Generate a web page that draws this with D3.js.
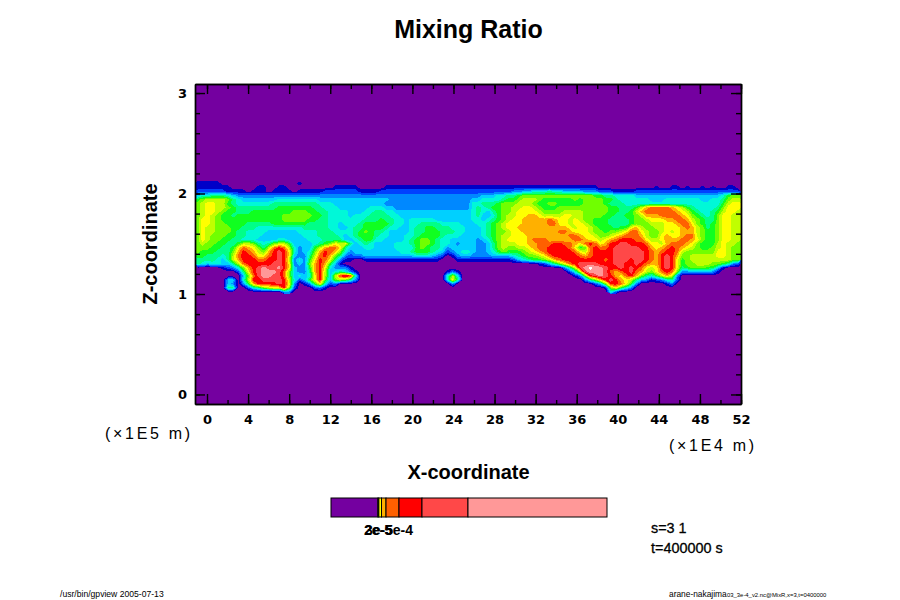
<!DOCTYPE html>
<html lang="en">
<head>
  <meta charset="utf-8" />
  <title>Mixing Ratio</title>
  <script src="https://d3js.org/d3.v7.min.js"></script>
  <style>
    html, body { margin: 0; padding: 0; background: #fff; }
    svg { display: block; }
    text { font-family: "Liberation Sans", sans-serif; fill: #000; }
    .tick text { font-family: "DejaVu Sans", sans-serif; font-size: 13px; font-weight: bold; }
    .tick line, .domain { stroke: #000; stroke-width: 1.4px; }
  </style>
</head>
<body>
  <svg id="chart" width="900" height="600"></svg>

  <script>
    // level of each grid cell, one string per z row (top to bottom), one char per x column
    const cellRows = [
      "1111100000 0000000000 1000000000 0000000000 0000000000 0000 000000 0000000000 0000000000 0000000000 0000000000 0000000",
      "1111111000 0011001100 0000000111 1100000111 1111111111 1111 111111 1111111111 1111111110 0000000000 1001101001 0100110",
      "2222221111 0111011110 1111122222 2211112222 2222222222 2222 222222 2233445556 5544443332 2211112222 2222222222 2222222",
      "4556665433 3333333333 3333333333 3333333333 3333333333 3333 334445 5667888888 8888888877 6655554444 4444444444 4445788",
      "7899998654 4444445555 5555444444 4444444433 3333333333 3333 445555 6778999877 7777878888 7765555554 4455555554 4556899",
      "89aa997655 5555566666 6666555444 4444444333 3333333333 3333 556667 8889998778 8777778888 7666555555 5555555555 55579aa",
      "89aa998766 6666667777 7776655544 4444555443 3333333333 3333 565677 8899aa9877 7888888888 87766679bc cccba97655 5568aaa",
      "89aa987766 6777777778 8877665555 4445566554 4444444444 4444 565467 889aaaa988 8899998888 8776679bcc ccccba9765 5679aa9",
      "89a9877677 7777777888 8887765555 4555666655 4444444444 4444 564457 899aabba99 99aa998888 77667789bb bccccba876 568aa99",
      "8aa9877777 7777777888 8877665555 5556667665 5455555444 4444 554567 89aabbbbbc baa9a98877 766667889a aabbccb987 668aa99",
      "8aa9887777 6666677777 7766665545 5567777765 5455666655 5544 455678 9aaabbbbbc caa9aa9877 7666678889 99aabcca87 678aa99",
      "8a99888776 6655555555 5666665544 5667777655 4456677666 5554 445678 9aabbbbbbb bbba9aa987 77677ab988 99aaabcb98 678aa99",
      "8a99888766 5555444444 5555666555 5678766544 4456677766 6554 445678 89aabbbbbb bccbaaa988 7889acca98 89a9abbb98 778aa99",
      "8a98887766 5554444444 4555666654 5677765544 4556777765 5544 445678 99aaabbbbb bbbccbaa98 89abcccb98 8abaabcc98 778aa99",
      "8a98877665 5544445544 4455566664 4567755444 4567887655 4444 434578 9aaaabcccb bbbbccbaa9 abcdddcca9 9abbbccba8 778aa99",
      "8988776679 9865689974 4445678a9a 6456544445 5567887655 4344 433468 999aabbccc ddccbacdca bddeedddca a9bcccba87 779a998",
      "8887766 7ac ba869cdc95 34479bcca6 4445544445 5557876653 4444 433468 98899abccd dddca78cdc cdeeeeeddb abcdcba987 789a988",
      "87776668bd cb98bdeda5 3458bdcb85 3444444444 5567776542 3455 433457 87778 9abcd ddddca9cdd ddeeeeeedc bcddc98888 88aa988",
      "7766656 9cd dcaacdeda4 3369cdb863 2334444444 4445554320 1344 333344 4456788 9ac dddddcbcdd ddeeeeeedc bdedb88999 99aa988",
      "66665469bd ddccdded93 537adca631 1001111111 1111111100 0111 111111 1124567789 bcdddddddd cdeeedeedc bdeda78999 9999988",
      "6545544 69c dddddeeda3 438bdb7410 0000000000 0000000000 0000 000000 0000000124 68acdeeeed ddeeddedcb bdeda78899 9887632",
      "0000012358 bdefeefda4 337bda5333 1000000000 0000000000 0000 000000 0000000000 00369efgff eddededca9 adeda67888 7741000",
      "0000000026 adefffec84 336bd94565 3100000000 0000000001 3100 000000 0000000000 000259efff ecbcdecb98 acdc833444 4310000",
      "0000000004 8ceffeec84 545ad949de d500000000 0000000005 9500 000000 0000000000 0000138def edbacdb865 79b9300000 0000000",
      "0000004405 9ddeeeed95 247ad84898 6300000000 0000000005 a600 000000 0000000000 000000368b dedba96431 2356200000 0000000",
      "0000004303 7bddddeda3 0137a52300 0000000000 0000000000 3000 000000 0000000000 0000000024 8ddca73000 0013000000 0000000",
      "0000006600 25689aad82 0002310000 0000000000 0000000000 0000 000000 0000000000 0000000000 18a7530000 0000000000 0000000",
      "0000000000 0000000330 0000000000 0000000000 0000000000 0000 000000 0000000000 0000000000 0520000000 0000000000 0000000"
    ].map(r => r.replace(/ /g, ""));

    const levelKeys = "0123456789abcdefg".split("");
    const levelColors = ["#7400a0", "#0000c8", "#0040ff", "#0088ff", "#00d0ff", "#00f8d8", "#00ff88", "#10ff20",
      "#70ff00", "#c0ff00", "#ffff00", "#ffb000", "#ff6000", "#ff0000", "#ff4848", "#ff9898", "#ffffff"];

    const xMajor = d3.range(0, 53, 4);
    const xMinor = d3.range(0, 53, 2);
    const zMajor = [0, 1, 2, 3];
    const zMinor = d3.range(0, 3.01, 0.2);

    const barEdges = [0, 1.02e-4, 1.04e-4, 1.098e-4, 1.196e-4, 1.478e-4, 1.978e-4, 2.978e-4, 6e-4];
    const barColors = ["#7400a0", "#c0ff00", "#ffff00", "#ffb000", "#ff6000", "#ff0000", "#ff4848", "#ff9898"];
    const barLabels = ["2e-5", "3e-5", "5e-4"];
    const barLabelX = [364, 365, 385];

    const svg = d3.select("#chart");
    const frame = { left: 195, right: 741, top: 84, bottom: 404 };

    const x = d3.scaleLinear().domain([-1.17, 52]).range([frame.left, frame.right]);
    const z = d3.scaleLinear().domain([-0.095, 3.09]).range([frame.bottom, frame.top]);

    // cloud layer only covers z 2.12 .. 1.0, the rest is the background level
    const nCols = cellRows[0].length, nRows = cellRows.length;
    const colPos = d3.scaleLinear().domain([0, nCols]).range([frame.left, frame.right]);
    const rowPos = d3.scaleLinear().domain([0, nRows]).range([z(2.12), z(1.0)]);

    svg.append("rect")
      .attr("x", frame.left).attr("y", frame.top)
      .attr("width", frame.right - frame.left).attr("height", frame.bottom - frame.top)
      .attr("fill", levelColors[0]);

    // filled contours of the level grid, one stacked band per level
    const levelValues = cellRows.flatMap(row => row.split("").map(k => levelKeys.indexOf(k)));
    const bands = d3.contours()
      .size([nCols, nRows])
      .thresholds(d3.range(0.5, levelKeys.length - 0.5, 1))(levelValues);

    const gridToPage = d3.geoTransform({
      point(px, py) { this.stream.point(colPos(px), rowPos(py)); }
    });
    const bandPath = d3.geoPath(gridToPage);

    svg.append("g").selectAll("path")
      .data(bands)
      .enter()
      .append("path")
      .attr("d", bandPath)
      .attr("fill", (d, i) => levelColors[i + 1])
      .attr("shape-rendering", "crispEdges");

    // axes, ticks point into the frame on all four sides
    const noLabel = () => "";
    const drawAxis = (axis, pos, values, size, pad, fmt) => svg.append("g")
      .attr("transform", pos)
      .call(axis.tickValues(values).tickSize(size).tickSizeOuter(0).tickPadding(pad).tickFormat(fmt));

    drawAxis(d3.axisBottom(x), `translate(0,${frame.bottom})`, xMinor, -4, 0, noLabel);
    drawAxis(d3.axisBottom(x), `translate(0,${frame.bottom})`, xMajor, -10, 11, d3.format("d"));
    drawAxis(d3.axisTop(x), `translate(0,${frame.top})`, xMinor, -5, 0, noLabel);
    drawAxis(d3.axisTop(x), `translate(0,${frame.top})`, xMajor, -10, 0, noLabel);
    drawAxis(d3.axisLeft(z), `translate(${frame.left},0)`, zMinor, -5, 0, noLabel);
    drawAxis(d3.axisLeft(z), `translate(${frame.left},0)`, zMajor, -10, 8, d3.format("d"));
    drawAxis(d3.axisRight(z), `translate(${frame.right},0)`, zMinor, -5, 0, noLabel);
    drawAxis(d3.axisRight(z), `translate(${frame.right},0)`, zMajor, -10, 0, noLabel);

    svg.selectAll(".domain").attr("stroke-width", 2);

    // titles
    svg.append("text").attr("x", 468.5).attr("y", 38).attr("text-anchor", "middle")
      .attr("font-size", 25).attr("font-weight", "bold").text("Mixing Ratio");
    svg.append("text").attr("x", 468.5).attr("y", 479).attr("text-anchor", "middle")
      .attr("font-size", 20).attr("font-weight", "bold").text("X-coordinate");
    svg.append("text").attr("transform", "translate(157,244) rotate(-90)").attr("text-anchor", "middle")
      .attr("font-size", 20).attr("font-weight", "bold").text("Z-coordinate");

    svg.append("text").attr("x", 105).attr("y", 439).attr("font-size", 16)
      .attr("letter-spacing", 2.7).attr("fill", "#222").text("(×1E5 m)");
    svg.append("text").attr("x", 669).attr("y", 451).attr("font-size", 16)
      .attr("letter-spacing", 2.7).attr("fill", "#222").text("(×1E4 m)");

    // colour bar
    const bar = d3.scaleLinear().domain([0, 6e-4]).range([331, 607]);
    const barSeg = d3.pairs(barEdges).map((p, i) => ({ from: p[0], to: p[1], color: barColors[i] }));

    svg.append("g").selectAll("rect")
      .data(barSeg)
      .enter()
      .append("rect")
      .attr("x", d => bar(d.from))
      .attr("y", 498)
      .attr("width", d => bar(d.to) - bar(d.from))
      .attr("height", 19)
      .attr("fill", d => d.color)
      .attr("stroke", "#000")
      .attr("stroke-width", 1);

    svg.append("g").selectAll("text")
      .data(barLabels)
      .enter()
      .append("text")
      .attr("x", (d, i) => barLabelX[i])
      .attr("y", 535)
      .attr("font-size", 14)
      .attr("font-weight", "bold")
      .text(d => d);

    // run info
    svg.append("text").attr("x", 651).attr("y", 533).attr("font-size", 14.4)
      .attr("stroke", "#000").attr("stroke-width", 0.3).text("s=3 1");
    svg.append("text").attr("x", 651).attr("y", 553).attr("font-size", 14.4)
      .attr("stroke", "#000").attr("stroke-width", 0.3).text("t=400000 s");

    // footer
    svg.append("text").attr("x", 60).attr("y", 597).attr("font-size", 8.6).text("/usr/bin/gpview 2005-07-13");
    svg.append("text").attr("x", 669).attr("y", 597).attr("font-size", 8.4).text("arane-nakajima");
    svg.append("text").attr("x", 727).attr("y", 597).attr("font-size", 5.9).text("03_3e-4_v2.nc@MixR,x=3,t=0400000");
  </script>
</body>
</html>
